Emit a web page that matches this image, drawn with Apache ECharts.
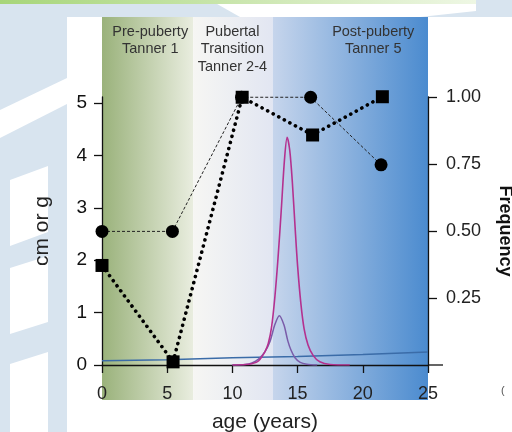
<!DOCTYPE html>
<html lang="en">
<head>
<meta charset="UTF-8">
<script src="https://cdn.jsdelivr.net/npm/echarts@6/dist/echarts.min.js"></script>
<style>
html, body { margin: 0; padding: 0; background: #fff; }
#main { width: 512px; height: 432px; }
</style>
<title>growth</title>
</head>
<body>
<div id="main"></div>
<script>
// axis ticks
var ageTicks = [0, 5, 10, 15, 20, 25];
var cmTicks = [0, 1, 2, 3, 4, 5];
var freqTicks = [0.25, 0.5, 0.75, 1];

// stages along age axis
var stageNames = ['Pre-puberty\nTanner 1', 'Pubertal\nTransition\nTanner 2-4', 'Post-puberty\nTanner 5'];
var stageEdges = [0, 7, 13.1, 25];
var stageLabelAge = [3.7, 10, 20.8];

// squares (thick dotted) and circles (thin dashed), cm or g
var squareAge = [0, 5.45, 10.75, 16.15, 21.5];
var squareVal = [1.9, 0.06, 5.11, 4.39, 5.12];
var circleAge = [0, 5.4, 10.7, 16.0, 21.4];
var circleVal = [2.55, 2.55, 5.11, 5.11, 3.82];

// slow blue trend, cm or g
var trendAge = [0, 5, 10, 15, 20, 25];
var trendVal = [0.08, 0.1, 0.14, 0.16, 0.2, 0.25];

// frequency curves
var peakAge = [10, 11, 11.5, 12, 12.5, 12.75, 13, 13.25, 13.5, 13.75, 14, 14.2, 14.4, 14.6, 14.8, 15, 15.25, 15.5, 15.8, 16.2, 16.7, 17.5, 19];
var peakFreq = [0, 0.002, 0.005, 0.015, 0.05, 0.08, 0.14, 0.25, 0.40, 0.58, 0.77, 0.85, 0.80, 0.68, 0.52, 0.37, 0.23, 0.135, 0.075, 0.035, 0.012, 0.002, 0];
var earlyAge = [10, 11, 11.5, 12, 12.5, 12.9, 13.25, 13.6, 13.95, 14.25, 14.5, 14.8, 15.2, 15.7, 16.5];
var earlyFreq = [0, 0.002, 0.008, 0.022, 0.05, 0.09, 0.15, 0.184, 0.15, 0.09, 0.055, 0.027, 0.01, 0.003, 0];

function pairs(xs, ys) {
  return xs.map(function (x, i) { return [x, ys[i]]; });
}

var FONT = '"Liberation Sans", Arial, sans-serif';
var stageColors = [['#9ab27b', '#e9eddf'], ['#f6f6f3', '#e2e6f2'], ['#c6d5ec', '#4b8bcf']];

var chart = echarts.init(document.getElementById('main'));

var option = {
  animation: false,
  grid: { left: 102, right: 84, top: 97, bottom: 67, outerBoundsMode: 'none', containLabel: false },
  xAxis: {
    type: 'value',
    min: 0, max: 25, interval: 5,
    name: 'age (years)',
    nameLocation: 'middle',
    nameGap: 47,
    nameTextStyle: { fontSize: 21, color: '#222', fontFamily: FONT },
    axisLine: { onZero: false, lineStyle: { color: '#111', width: 1.3 } },
    axisTick: { length: 8, lineStyle: { color: '#111', width: 1.3 }, customValues: ageTicks },
    axisLabel: { fontSize: 18, color: '#222', margin: 20, fontFamily: FONT, customValues: ageTicks },
    splitLine: { show: false }
  },
  yAxis: [
    {
      type: 'value',
      position: 'left',
      min: 0, max: 5.115,
      name: 'cm or g',
      nameLocation: 'middle',
      nameGap: 49,
      nameRotate: 90,
      nameTextStyle: { fontSize: 21, color: '#222', fontFamily: FONT },
      axisLine: { show: true, lineStyle: { color: '#111', width: 1.3 } },
      axisTick: { show: true, length: 8, lineStyle: { color: '#111', width: 1.3 }, customValues: cmTicks },
      axisLabel: { fontSize: 19, color: '#111', margin: 15, fontFamily: FONT, customValues: cmTicks },
      splitLine: { show: false }
    },
    {
      type: 'value',
      position: 'right',
      min: 0, max: 1,
      name: 'Frequency',
      nameLocation: 'middle',
      nameGap: 68,
      nameRotate: -90,
      nameTextStyle: { fontSize: 18, fontWeight: 'bold', color: '#111', fontFamily: FONT },
      axisLine: { show: true, lineStyle: { color: '#111', width: 1.3 } },
      axisTick: { show: true, length: 9, lineStyle: { color: '#111', width: 1.3 }, customValues: freqTicks },
      axisLabel: {
        fontSize: 18, color: '#222', margin: 18, fontFamily: FONT, customValues: freqTicks,
        formatter: function (v) { return v.toFixed(2); }
      },
      splitLine: { show: false }
    }
  ],
  series: [
    {
      name: 'trend',
      type: 'line',
      yAxisIndex: 0,
      showSymbol: false,
      data: pairs(trendAge, trendVal),
      lineStyle: { color: '#3b6ca8', width: 1.5 },
      z: 2
    },
    {
      name: 'early',
      type: 'line',
      yAxisIndex: 1,
      showSymbol: false,
      smooth: 0.3,
      data: pairs(earlyAge, earlyFreq),
      lineStyle: { color: '#7a5ca9', width: 1.5 },
      z: 2
    },
    {
      name: 'peak',
      type: 'line',
      yAxisIndex: 1,
      showSymbol: false,
      smooth: 0.3,
      data: pairs(peakAge, peakFreq),
      lineStyle: { color: '#b4318f', width: 1.6 },
      z: 2
    },
    {
      name: 'circles',
      type: 'line',
      yAxisIndex: 0,
      symbol: 'circle',
      symbolSize: 13,
      clip: false,
      data: pairs(circleAge, circleVal),
      itemStyle: { color: '#000' },
      lineStyle: { color: '#222', width: 1, type: [3, 2] },
      z: 3
    },
    {
      name: 'squares',
      type: 'line',
      yAxisIndex: 0,
      symbol: 'rect',
      symbolSize: 13,
      clip: false,
      data: pairs(squareAge, squareVal),
      itemStyle: { color: '#000' },
      lineStyle: { color: '#000', width: 3.6, type: [0.1, 6.2], cap: 'round' },
      z: 4
    }
  ]
};
chart.setOption(option);

function px(age) {
  return chart.convertToPixel({ xAxisIndex: 0 }, age);
}

var graphics = [];

// page decoration outside the panel
graphics.push({ type: 'rect', silent: true, z: -20, shape: { x: 0, y: 0, width: 512, height: 17 }, style: { fill: '#d8e4ef' } });
graphics.push({ type: 'rect', silent: true, z: -20, shape: { x: 0, y: 17, width: 67, height: 415 }, style: { fill: '#d8e4ef' } });
graphics.push({ type: 'polygon', silent: true, z: -19, shape: { points: [[210, 0], [476, 0], [476, 11], [420, 17], [240, 17]] }, style: { fill: '#fff' } });
graphics.push({
  type: 'rect', silent: true, z: -18, shape: { x: 0, y: 0, width: 476, height: 4 },
  style: { fill: new echarts.graphic.LinearGradient(0, 0, 1, 0, [{ offset: 0, color: '#a7d579' }, { offset: 1, color: '#eef7e4' }]) }
});
graphics.push({ type: 'polygon', silent: true, z: -19, shape: { points: [[0, 110], [67, 78], [67, 104], [0, 138]] }, style: { fill: '#fff' } });
graphics.push({ type: 'polygon', silent: true, z: -19, shape: { points: [[10, 180], [48, 166], [48, 232], [10, 246]] }, style: { fill: '#fff' } });
graphics.push({ type: 'polygon', silent: true, z: -19, shape: { points: [[10, 268], [48, 256], [48, 322], [10, 334]] }, style: { fill: '#fff' } });
graphics.push({ type: 'polygon', silent: true, z: -19, shape: { points: [[10, 364], [48, 352], [48, 432], [10, 432]] }, style: { fill: '#fff' } });

// stage backgrounds and labels
for (var i = 0; i < stageNames.length; i++) {
  var x0 = px(stageEdges[i]);
  var x1 = px(stageEdges[i + 1]);
  graphics.push({
    type: 'rect', silent: true, z: -10,
    shape: { x: x0, y: 17, width: x1 - x0, height: 383 },
    style: {
      fill: new echarts.graphic.LinearGradient(0, 0, 1, 0, [
        { offset: 0, color: stageColors[i][0] },
        { offset: 1, color: stageColors[i][1] }
      ])
    }
  });
  graphics.push({
    type: 'text', silent: true, z: 5,
    style: {
      text: stageNames[i],
      x: px(stageLabelAge[i]), y: 23,
      align: 'center', verticalAlign: 'top',
      fontSize: 14.5, lineHeight: 17.5, fontFamily: FONT, fill: '#333'
    }
  });
}

// x axis line runs a little past the last tick
var xEnd = px(25);
var yBase = chart.convertToPixel({ yAxisIndex: 0 }, 0);
graphics.push({
  type: 'line', silent: true, z: 5,
  shape: { x1: xEnd, y1: yBase, x2: xEnd + 15, y2: yBase },
  style: { stroke: '#111', lineWidth: 1.3 }
});
graphics.push({
  type: 'text', silent: true,
  style: { text: '(', x: 501, y: 385, fontSize: 11, fill: '#555', fontFamily: FONT }
});

chart.setOption({ graphic: graphics });
</script>
</body>
</html>
